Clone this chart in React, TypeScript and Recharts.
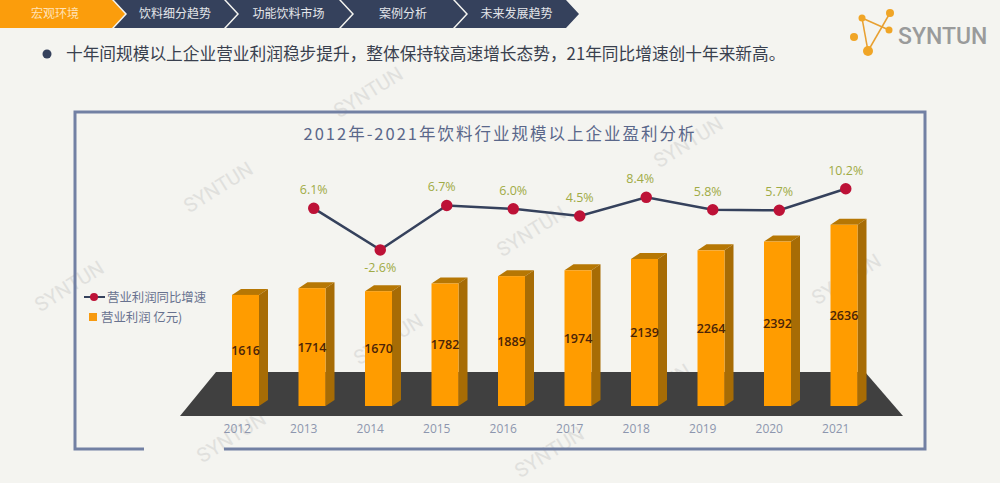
import { ComposedChart, Bar, Line, XAxis, YAxis, LabelList, Legend } from 'recharts';

const years = ['2012', '2013', '2014', '2015', '2016', '2017', '2018', '2019', '2020', '2021'];
const profit = [1616, 1714, 1670, 1782, 1889, 1974, 2139, 2264, 2392, 2636];
const growth = [null, 6.1, -2.6, 6.7, 6.0, 4.5, 8.4, 5.8, 5.7, 10.2];

const navItems = ['宏观环境', '饮料细分趋势', '功能饮料市场', '案例分析', '未来发展趋势'];
const navEdges = [0, 112, 224, 339, 453, 566];
const watermarks = [
  [222, 193], [73, 292], [372, 98], [535, 237], [692, 148],
  [850, 285], [392, 345], [235, 443], [553, 458], [660, 395],
];

const data = years.map((year, i) => ({ year, profit: profit[i], growth: growth[i] }));

const CJK = '"Noto Sans CJK SC", "Noto Sans", sans-serif';
const NAVY = '#35415c';
const FRAME = '#7280a3';
const TICK = '#8d96ae';
const BAR_SHIFT = -2;
// a few growth labels sit left of their point in the original
const LABEL_DX: Record<number, number> = { 3: -5, 6: -6, 7: -5 };

function Backdrop() {
  const chevron = (i: number) => {
    const a = navEdges[i] + (i ? 2 : 0);
    const b = navEdges[i + 1];
    const notch = i ? `${a + 13},14 ` : '';
    return `${a},0 ${b},0 ${b + 13},14 ${b},28 ${a},28 ${notch}`;
  };
  return (
    <svg width={1000} height={483} style={{ position: 'absolute', left: 0, top: 0 }}>
      <rect width={1000} height={483} fill="#f4f4f0" />
      {navItems.map((item, i) => (
        <g key={item}>
          <polygon points={chevron(i)} fill={i === 0 ? '#fb9d0c' : NAVY} />
          <text
            x={(navEdges[i] + navEdges[i + 1]) / 2 + (i ? 7 : -1)}
            y={18}
            textAnchor="middle"
            fontSize={12}
            fontFamily={CJK}
            fill={i === 0 ? '#ffe2b8' : '#e4e6ea'}
          >
            {item}
          </text>
        </g>
      ))}

      <circle cx={47} cy={54} r={4.5} fill={NAVY} />
      <text x={66} y={60} fontSize={16.7} fontFamily={CJK} fill="#39404e">
        十年间规模以上企业营业利润稳步提升，整体保持较高速增长态势，21年同比增速创十年来新高。
      </text>

      <g stroke="#e8a030" strokeWidth={1.5}>
        <line x1={862} y1={18} x2={889} y2={30} />
        <line x1={862} y1={18} x2={868} y2={51} />
        <line x1={868} y1={51} x2={890} y2={13} />
      </g>
      <g fill="#f0a526">
        <circle cx={862} cy={18} r={3.5} />
        <circle cx={890} cy={13} r={4} />
        <circle cx={889} cy={30} r={3.5} />
        <circle cx={854} cy={37} r={4} />
        <circle cx={868} cy={51} r={5} />
      </g>
      <text x={898} y={44} fontSize={23} fontWeight={500} fontFamily="Roboto, sans-serif" fill="#9a9b9b">
        SYNTUN
      </text>

      {watermarks.map(([x, y]) => (
        <text
          key={`${x}-${y}`}
          x={x}
          y={y}
          textAnchor="middle"
          fontSize={20}
          fontFamily="Roboto, sans-serif"
          fill="#e0e0dd"
          transform={`rotate(-32 ${x} ${y})`}
        >
          SYNTUN
        </text>
      ))}

      <path d="M144 449 H75 V112 H925 V449 H224" fill="none" stroke={FRAME} strokeWidth={3} />
      <text
        x={500}
        y={140}
        textAnchor="middle"
        fontSize={16.5}
        letterSpacing={2}
        fontFamily={CJK}
        fill="#5a678a"
      >
        2012年-2021年饮料行业规模以上企业盈利分析
      </text>

      <polygon points="180,416 216,372 865,372 903,416" fill="#404040" />
    </svg>
  );
}

// front face plus the top and right faces of the 3D column
function Column(props: any) {
  const { x, y, width, height } = props;
  const left = x + BAR_SHIFT;
  const right = left + width;
  const bottom = y + height;
  return (
    <g>
      <polygon points={`${left},${y} ${left + 9},${y - 6} ${right + 9},${y - 6} ${right},${y}`} fill="#b67704" />
      <polygon points={`${right},${y} ${right + 9},${y - 6} ${right + 9},${bottom - 6} ${right},${bottom}`} fill="#a76c05" />
      <rect x={left} y={y} width={width} height={height} fill="#ff9c00" />
    </g>
  );
}

function GrowthLabel(props: any) {
  const { x, y, value, index } = props;
  if (value == null) return null;
  const below = value < 0;
  return (
    <text
      x={x + (LABEL_DX[index] ?? 0)}
      y={below ? y + 22 : y - 14}
      textAnchor="middle"
      fontSize={12.5}
      fontFamily={'"Open Sans", sans-serif'}
      fill="#a0ab45"
    >
      {value.toFixed(1)}%
    </text>
  );
}

function YearTick(props: any) {
  const { x, y, payload } = props;
  return (
    <text x={x - 10} y={y + 19} textAnchor="middle" fontSize={12} fontFamily={'"Open Sans", sans-serif'} fill={TICK}>
      {payload.value}
    </text>
  );
}

function LegendBox() {
  return (
    <div style={{ fontFamily: CJK, fontSize: 12.4, color: '#68728f', lineHeight: '20px' }}>
      <div style={{ display: 'flex', alignItems: 'center', whiteSpace: 'nowrap' }}>
        <svg width={24} height={20} style={{ marginRight: 1 }}>
          <line x1={2} y1={10} x2={23} y2={10} stroke={NAVY} strokeWidth={2} />
          <circle cx={12} cy={10} r={4} fill="#bd1237" />
        </svg>
        营业利润同比增速
      </div>
      <div style={{ display: 'flex', alignItems: 'center', whiteSpace: 'nowrap' }}>
        <svg width={12} height={20} style={{ marginLeft: 7 }}>
          <rect x={0} y={6} width={8} height={8} fill="#f79a10" />
        </svg>
        营业利润 亿元)
      </div>
    </div>
  );
}

export default function App() {
  return (
    <div style={{ position: 'absolute', left: 0, top: 0, width: 1000, height: 483, overflow: 'hidden' }}>
      <Backdrop />
      <div style={{ position: 'absolute', left: 0, top: 0 }}>
        <ComposedChart
          width={1000}
          height={483}
          data={data}
          barCategoryGap={0}
          margin={{ left: 214, right: 121, top: 131, bottom: 47 }}
        >
          <XAxis dataKey="year" height={30} axisLine={false} tickLine={false} tick={<YearTick />} interval={0} />
          <YAxis yAxisId="profit" hide domain={[0, 4000]} />
          <YAxis yAxisId="growth" hide domain={[-35.3, 22.3]} />
          <Legend
            content={<LegendBox />}
            layout="vertical"
            align="center"
            verticalAlign="middle"
            wrapperStyle={{ left: 82, top: 287, width: 140, height: 40 }}
          />
          <Bar yAxisId="profit" dataKey="profit" barSize={27} shape={<Column />} isAnimationActive={false}>
            <LabelList
              dataKey="profit"
              position="center"
              dx={BAR_SHIFT}
              fontSize={12.5}
              fontWeight={600}
              fontFamily={'"Open Sans", sans-serif'}
              fill="#4a2408"
            />
          </Bar>
          <Line
            yAxisId="growth"
            dataKey="growth"
            stroke={NAVY}
            strokeWidth={2.5}
            dot={{ r: 4.5, fill: '#bd1237', stroke: '#bd1237' }}
            connectNulls={false}
            isAnimationActive={false}
          >
            <LabelList dataKey="growth" content={<GrowthLabel />} />
          </Line>
        </ComposedChart>
      </div>
    </div>
  );
}
